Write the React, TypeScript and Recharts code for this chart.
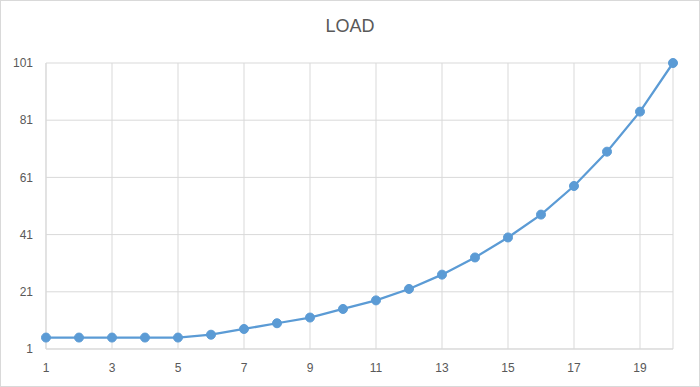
import React from "react";
import { LineChart, Line, XAxis, YAxis, CartesianGrid } from "recharts";

// Reference values
const steps = [1, 2, 3, 4, 5, 6, 7, 8, 9, 10, 11, 12, 13, 14, 15, 16, 17, 18, 19, 20];
const load = [5, 5, 5, 5, 5, 6, 8, 10, 12, 15, 18, 22, 27, 33, 40, 48, 58, 70, 84, 101];
const xTicks = [1, 3, 5, 7, 9, 11, 13, 15, 17, 19];
const yTicks = [1, 21, 41, 61, 81, 101];

const GRID = "#d9d9d9";
const TEXT = "#595959";
const SERIES = "#5b9bd5";
const FONT = "'Liberation Sans', Arial, sans-serif";

const chartData = steps.map((step, i) => ({ step, load: load[i] }));

export default function App() {
    return (
        <div style={{ position: "absolute", left: 0, top: 0, width: 700, height: 387, background: "#fff" }}>
            <div
                style={{
                    position: "absolute",
                    top: 16,
                    left: 0,
                    width: 700,
                    textAlign: "center",
                    fontFamily: FONT,
                    fontSize: 18,
                    color: TEXT,
                }}
            >
                LOAD
            </div>
            <LineChart
                width={700}
                height={387}
                data={chartData}
                margin={{ top: 63, right: 27, bottom: 8, left: 0 }}
            >
                <CartesianGrid stroke={GRID} strokeWidth={1} />
                <XAxis
                    dataKey="step"
                    type="number"
                    domain={[1, 20]}
                    ticks={xTicks}
                    height={30}
                    tickSize={0}
                    tickMargin={14}
                    axisLine={{ stroke: GRID }}
                    tick={{ fill: TEXT, fontSize: 12, fontFamily: FONT }}
                />
                <YAxis
                    type="number"
                    domain={[1, 101]}
                    ticks={yTicks}
                    width={46}
                    tickSize={0}
                    tickMargin={13}
                    axisLine={{ stroke: GRID }}
                    tick={{ fill: TEXT, fontSize: 12, fontFamily: FONT }}
                />
                <Line
                    type="linear"
                    dataKey="load"
                    stroke={SERIES}
                    strokeWidth={2.25}
                    dot={{ r: 4.5, fill: SERIES, stroke: SERIES, strokeWidth: 1 }}
                    isAnimationActive={false}
                />
            </LineChart>
            <div
                style={{
                    position: "absolute",
                    inset: 0,
                    border: `1px solid ${GRID}`,
                    pointerEvents: "none",
                }}
            />
        </div>
    );
}
